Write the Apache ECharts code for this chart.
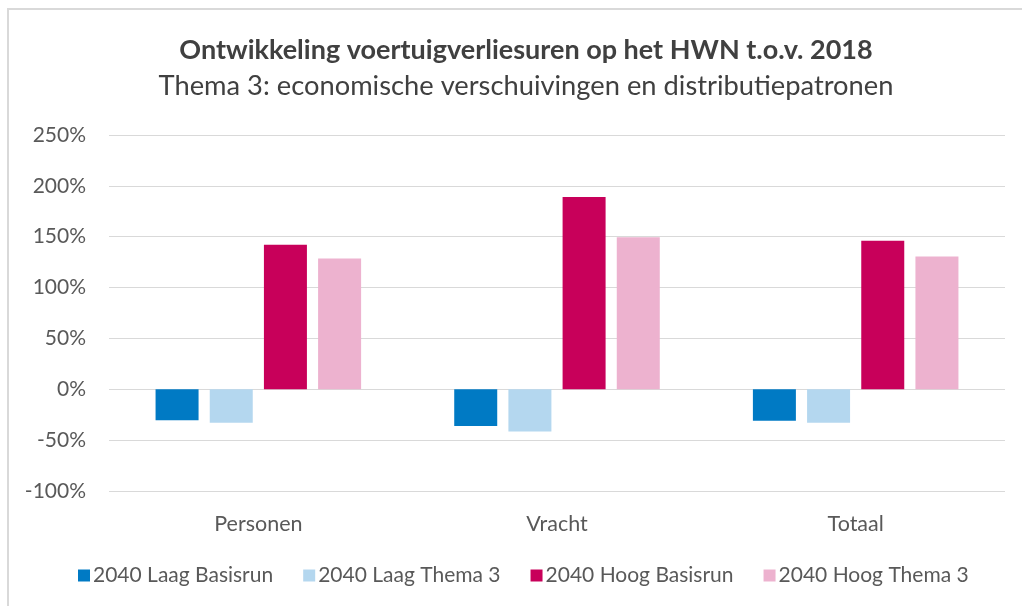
<!DOCTYPE html>
<html>
<head>
<meta charset="utf-8">
<script src="https://cdn.jsdelivr.net/npm/echarts@6/dist/echarts.min.js"></script>
<style>
  html, body { margin: 0; padding: 0; background: #fff; }
  #main { width: 1022px; height: 606px; }
</style>
</head>
<body>
<div id="main"></div>
<script>
// categorieën en waarden (procentuele ontwikkeling t.o.v. 2018)
var categories = ['Personen', 'Vracht', 'Totaal'];
var laagBasisrun = [-30.5, -36, -31];
var laagThema3 = [-33, -41.5, -33];
var hoogBasisrun = [142, 189, 146];
var hoogThema3 = [128.5, 149.5, 130.5];
var seriesNames = ['2040 Laag Basisrun', '2040 Laag Thema 3', '2040 Hoog Basisrun', '2040 Hoog Thema 3'];
var colors = ['#007AC4', '#B4D7EF', '#C8005A', '#EDB2CF'];

var myChart = echarts.init(document.getElementById('main'));

var font = 'Lato, "Open Sans", sans-serif';

function bar(name, data, color) {
    return {
        name: name,
        type: 'bar',
        data: data,
        barWidth: 43,
        barGap: '26%',
        itemStyle: {color: color}
    };
}

var option = {
    backgroundColor: '#fff',
    color: colors,
    textStyle: {fontFamily: font},
    title: [{
        text: 'Ontwikkeling voertuigverliesuren op het HWN t.o.v. 2018',
        left: 521,
        textAlign: 'center',
        top: 32,
        textStyle: {fontSize: 27, fontWeight: 'bold', color: '#404040', fontFamily: font}
    }, {
        text: 'Thema 3: economische verschuivingen en distributiepatronen',
        left: 521,
        textAlign: 'center',
        top: 68,
        textStyle: {fontSize: 27.3, fontWeight: 'normal', color: '#404040', fontFamily: font}
    }],
    legend: {
        data: seriesNames,
        bottom: 15,
        left: 73,
        itemWidth: 12,
        itemHeight: 12,
        itemGap: 30,
        icon: 'rect',
        textStyle: {fontSize: 21, color: '#595959', fontFamily: font, padding: [0, 0, 0, -2]}
    },
    grid: {
        left: 109,
        right: 17,
        top: 135,
        bottom: 115
    },
    xAxis: {
        type: 'category',
        data: categories,
        axisLine: {show: false},
        axisTick: {show: false},
        axisLabel: {fontSize: 21.5, color: '#595959', margin: 22, fontFamily: font}
    },
    yAxis: {
        type: 'value',
        min: -100,
        max: 250,
        interval: 50,
        axisLine: {show: false},
        axisTick: {show: false},
        axisLabel: {
            fontSize: 21,
            color: '#595959',
            margin: 23,
            fontFamily: font,
            formatter: '{value}%'
        },
        splitLine: {lineStyle: {color: '#D9D9D9', width: 1}}
    },
    graphic: [{
        type: 'rect',
        shape: {x: 8, y: 9, width: 1040, height: 640},
        style: {fill: 'none', stroke: '#D9D9D9', lineWidth: 2},
        silent: true
    }],
    series: [
        bar(seriesNames[0], laagBasisrun, colors[0]),
        bar(seriesNames[1], laagThema3, colors[1]),
        bar(seriesNames[2], hoogBasisrun, colors[2]),
        bar(seriesNames[3], hoogThema3, colors[3])
    ]
};

myChart.setOption(option);
</script>
</body>
</html>
